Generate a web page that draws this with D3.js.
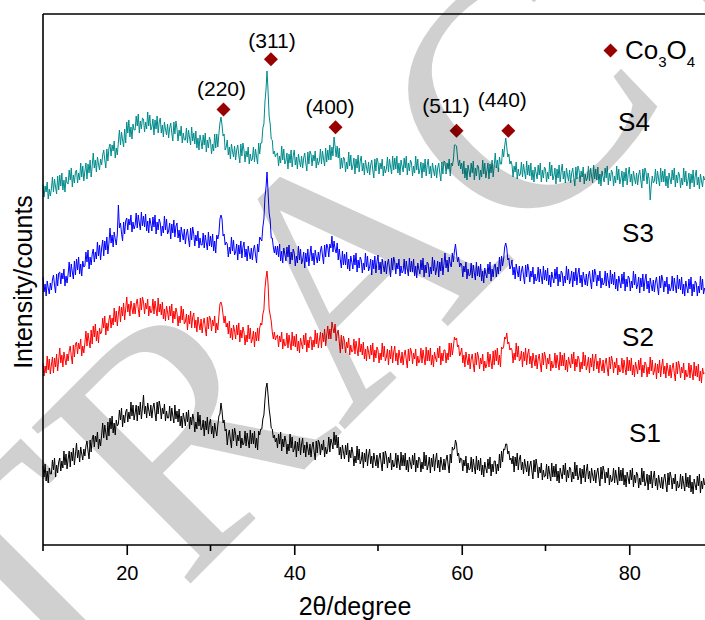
<!DOCTYPE html>
<html><head><meta charset="utf-8">
<script src="https://cdn.jsdelivr.net/npm/d3@7"></script>
<style>body{margin:0;background:#fff}svg{display:block}</style>
</head><body>
<svg id="chart" width="705" height="620"></svg>
<script>
// ---- data (arbitrary intensity units) ----
const twoThetaStart = 10;
const twoThetaStep = 0.125;

const s1 = [
79,68,81,64,74,62,77,71, 71,85,75,87,68,80,72,83,
87,74,84,77,94,80,91,76, 86,94,78,93,84,97,80,91,
102,87,95,83,98,91,85,96, 89,99,104,94,86,105,93,106,
110,98,109,103,113,96,106,99, 110,122,107,120,112,105,123,109,
127,116,129,112,122,110,125,119, 121,135,125,137,118,130,122,133,
136,123,133,126,143,129,140,125, 132,140,124,139,130,143,126,137,
150,131,139,127,142,135,129,140, 127,137,142,132,124,143,131,144,
138,126,137,131,141,124,134,127, 127,139,124,137,129,122,140,126,
134,123,136,119,129,117,132,126, 119,133,123,135,116,128,120,131,
126,113,123,116,133,119,130,115, 117,125,109,124,115,128,111,122,
126,111,119,107,122,115,109,120, 129,131,142,134,122,125,114,116,
100,110,115,105,97,116,104,117, 111,99,110,104,114,97,107,100,
102,114,99,112,104,97,115,101, 112,101,114,97,107,95,114,110,
116,116,126,130,145,157,162,150, 136,128,117,116,107,110,103,107,
97,111,101,113,94,106,98,109, 104,91,101,94,111,97,108,93,
96,104,88,103,94,107,90,101, 107,92,100,88,103,96,90,101,
88,98,103,93,85,104,92,105, 102,90,101,95,105,88,98,91,
96,108,93,106,102,96,113,100, 110,97,108,90,98,86,100,93,
86,100,90,102,83,95,87,98, 92,79,89,82,99,85,96,81,
85,93,77,92,83,96,79,90, 96,81,89,77,92,85,79,90,
77,87,92,82,74,93,81,94, 89,77,88,82,92,75,85,78,
80,92,77,90,82,75,93,79, 90,79,92,75,85,73,88,82,
76,90,80,92,73,85,77,88, 86,73,83,76,93,79,90,75,
80,88,72,87,78,91,74,85, 92,77,85,73,88,81,75,86,
75,85,90,80,72,91,82,98, 95,96,105,101,89,92,82,87,
86,74,85,79,89,72,82,75, 76,88,73,86,78,71,89,75,
85,74,87,70,80,68,83,77, 72,86,76,88,69,81,73,84,
84,71,81,74,91,77,94,83, 96,95,101,101,91,94,85,87,
81,89,73,88,79,92,75,86, 90,75,83,71,86,79,73,84,
69,79,84,74,66,85,73,86, 79,67,78,72,82,65,75,68,
69,81,66,79,71,64,82,68, 79,68,81,64,74,62,77,71,
66,80,70,82,63,75,67,78, 76,63,73,66,83,69,80,65,
69,77,61,76,67,80,63,74, 81,66,74,62,77,70,64,75,
62,72,77,67,59,78,66,79, 74,62,73,67,77,60,70,63,
65,77,62,75,67,60,78,64, 75,64,77,60,70,58,73,67,
61,75,65,77,58,70,62,73, 70,57,67,60,77,63,74,59,
63,71,55,70,61,74,57,68, 74,59,67,55,70,63,57,68,
56,66,71,61,53,72,60,73, 68,56,67,61,71,54,64,57,
59,71,56,69,61,54,72,58, 68,57,70,53,63,51,66,60,
55,69,59,71,52,64,56,67, 60
];

const s2 = [
182,169,179,172,189,175,186,171, 180,188,172,187,178,191,174,185,
197,182,190,178,193,186,180,191, 184,194,199,189,181,200,188,201,
203,191,202,196,206,189,199,192, 202,214,199,212,204,197,215,201,
219,208,221,204,214,202,217,211, 213,227,217,229,210,222,214,225,
230,217,227,220,237,223,234,219, 231,239,223,238,229,242,225,236,
248,233,241,229,244,237,231,242, 231,241,246,236,228,247,235,248,
243,231,242,236,246,229,239,232, 234,246,231,244,236,229,247,233,
241,230,243,226,236,224,239,233, 225,239,229,241,222,234,226,237,
232,219,229,222,239,225,236,221, 223,231,215,230,221,234,217,228,
232,217,225,213,228,221,215,226, 212,222,227,217,209,228,216,229,
226,214,225,219,229,212,222,215, 229,241,243,239,230,222,229,218,
222,211,224,207,217,205,220,214, 206,220,210,222,203,215,207,218,
213,200,210,203,220,206,217,202, 206,214,198,213,204,217,204,217,
222,220,231,235,256,267,274,261, 236,230,224,213,206,213,205,209,
210,198,209,203,213,196,206,199, 200,212,197,210,202,195,213,199,
209,198,211,194,204,192,207,201, 196,210,200,212,193,205,197,208,
208,195,205,198,215,201,212,197, 205,213,197,212,203,216,199,210,
219,206,216,206,223,217,212,221, 204,212,215,203,192,210,196,209,
204,192,203,197,207,190,200,193, 194,206,191,204,196,189,207,193,
201,190,203,186,196,184,199,193, 186,200,190,202,183,195,187,198,
195,182,192,185,202,188,199,184, 188,196,180,195,186,199,182,193,
199,184,192,180,195,188,182,193, 180,190,195,185,177,196,184,197,
193,181,192,186,196,179,189,182, 185,197,182,195,187,180,198,184,
195,184,197,180,190,178,193,187, 183,197,187,199,180,192,184,195,
195,182,192,185,202,188,202,190, 198,208,205,207,198,200,189,192,
197,182,190,178,193,186,180,191, 176,186,191,181,173,192,180,193,
188,176,187,181,191,174,184,177, 181,193,178,191,183,176,194,180,
195,184,197,180,190,178,198,196, 198,208,206,212,201,203,195,197,
195,182,192,185,202,188,199,184, 186,194,178,193,184,197,180,191,
196,181,189,177,192,185,179,190, 176,186,191,181,173,192,180,193,
188,176,187,181,191,174,184,177, 180,192,177,190,182,175,193,179,
190,179,192,175,185,173,188,182, 177,191,181,193,174,186,178,189,
186,173,183,176,193,179,190,175, 180,188,172,187,178,191,174,185,
191,176,184,172,187,180,174,185, 172,182,187,177,169,188,176,189,
184,172,183,177,187,170,180,173, 175,187,172,185,177,170,188,174,
185,174,187,170,180,168,183,177, 171,185,175,187,168,180,172,183,
181,168,178,171,188,174,185,170, 174,182,166,181,172,185,168,179,
186,171,179,167,182,175,169,180, 167,177,182,172,164,183,171,184,
179,167,178,172,182,165,175,168, 170,182,167,180,172,165,183,169,
179,168,181,164,174,162,177,171, 172
];

const s3 = [
268,253,261,249,264,257,251,262, 255,265,270,260,252,271,259,272,
273,261,272,266,276,259,269,262, 271,283,268,281,273,266,284,270,
286,275,288,271,281,269,284,278, 279,293,283,295,276,288,280,291,
296,283,293,286,303,289,300,285, 297,305,289,304,295,308,291,302,
317,302,310,298,313,306,300,311, 340,317,322,312,304,323,311,324,
327,315,326,320,330,313,323,316, 320,332,317,330,322,315,333,319,
329,318,331,314,324,312,327,321, 314,328,318,330,311,323,315,326,
322,309,319,312,329,315,326,311, 314,322,306,321,312,325,308,319,
322,307,315,303,318,311,305,316, 301,311,316,306,298,317,305,318,
311,299,310,304,314,297,307,300, 300,312,297,310,302,295,313,299,
309,298,311,294,304,292,310,306, 311,326,330,326,309,311,300,303,
301,288,298,291,308,294,305,290, 293,301,285,300,291,304,287,298,
303,288,296,284,299,292,286,297, 285,295,300,290,282,301,293,308,
306,304,318,326,348,357,373,353, 332,325,307,307,298,292,299,290,
299,288,301,284,294,282,297,291, 284,298,288,300,281,293,285,296,
292,279,289,282,299,285,296,281, 285,293,277,292,283,296,279,290,
299,284,292,280,295,288,282,293, 284,294,299,289,281,300,288,301,
298,288,301,297,309,293,304,296, 292,302,285,296,285,277,294,280,
291,280,293,276,286,274,289,283, 276,290,280,292,273,285,277,288,
285,272,282,275,292,278,289,274, 278,286,270,285,276,289,272,283,
290,275,283,271,286,279,273,284, 271,281,286,276,268,287,275,288,
283,271,282,276,286,269,279,272, 274,286,271,284,276,269,287,273,
284,273,286,269,279,267,282,276, 271,285,275,287,268,280,272,283,
281,268,278,271,288,274,285,270, 276,284,268,283,274,287,270,281,
292,277,285,273,288,281,278,292, 283,294,301,291,283,288,278,282,
280,268,279,273,283,266,276,269, 270,282,267,280,272,265,283,269,
279,268,281,264,274,262,277,271, 267,281,271,283,264,276,268,279,
281,268,278,271,288,274,289,279, 286,298,302,297,285,287,276,279,
285,270,278,266,281,274,268,279, 264,274,279,269,261,280,268,281,
275,263,274,268,278,261,271,264, 266,278,263,276,268,261,279,265,
275,264,277,260,270,258,273,267, 262,276,266,278,259,271,263,274,
272,259,269,262,279,265,276,261, 266,274,258,273,264,277,260,271,
277,262,270,258,273,266,260,271, 259,269,274,264,256,275,263,276,
271,259,270,264,274,257,267,260, 262,274,259,272,264,257,275,261,
271,260,273,256,266,254,269,263, 257,271,261,273,254,266,258,269,
267,254,264,257,274,260,271,256, 260,268,252,267,258,271,254,265,
271,256,264,252,267,260,254,265, 253,263,268,258,250,269,257,270,
265,253,264,258,268,251,261,254, 257,269,254,267,259,252,270,256,
266,255,268,251,261,249,264,258, 252,266,256,268,249,261,253,264,
262,249,259,252,269,255,266,251, 257
];

const s4 = [
360,348,359,353,363,346,356,349, 356,368,353,366,358,351,369,355,
370,359,372,355,365,353,368,362, 361,375,365,377,358,370,362,373,
375,362,372,365,382,368,379,364, 374,382,366,381,372,385,368,379,
392,377,385,373,388,381,375,386, 380,390,395,385,377,396,384,397,
401,389,400,394,404,387,397,390, 403,415,400,413,405,398,416,402,
423,412,425,408,418,406,421,415, 415,429,419,431,412,424,416,427,
426,413,423,416,433,419,430,415, 418,426,410,425,416,429,412,423,
427,412,420,408,423,416,410,421, 407,417,422,412,404,423,411,424,
416,404,415,409,419,402,412,405, 405,417,402,415,407,400,418,404,
412,401,414,397,407,395,410,404, 396,410,400,412,393,405,397,408,
404,391,401,394,411,397,411,398, 411,422,428,420,409,411,395,398,
405,390,398,386,401,394,388,399, 385,395,400,390,382,401,389,402,
395,383,394,388,398,381,391,384, 386,398,383,396,388,381,402,391,
402,402,417,421,443,455,474,454, 429,421,406,405,391,394,388,391,
392,379,389,382,399,385,396,381, 384,392,376,391,382,395,378,389,
395,380,388,376,391,384,378,389, 377,387,392,382,374,393,381,394,
391,379,390,384,394,377,387,380, 384,396,381,394,386,379,397,383,
395,385,400,385,398,389,408,399, 388,399,387,397,376,387,377,388,
386,373,383,376,393,379,390,375, 379,387,371,386,377,390,373,384,
389,374,382,370,385,378,372,383, 370,380,385,375,367,386,374,387,
383,371,382,376,386,369,379,372, 376,388,373,386,378,371,389,375,
387,376,389,372,382,370,385,379, 373,387,377,389,370,382,374,385,
382,369,379,372,389,375,386,371, 375,383,367,382,373,386,369,380,
386,371,379,367,382,375,369,380, 367,377,382,372,364,383,371,384,
383,371,382,376,386,369,382,379, 385,400,400,399,387,379,385,376,
382,371,384,367,377,365,380,374, 368,382,372,384,365,377,369,380,
378,365,375,368,385,371,382,367, 374,382,366,381,372,385,368,379,
392,377,385,373,388,381,381,396, 388,399,407,398,388,391,381,384,
380,368,379,373,383,366,376,369, 371,383,368,381,373,366,384,370,
380,369,382,365,375,363,378,372, 366,380,370,382,363,375,367,378,
376,363,373,366,383,369,380,365, 369,377,361,376,367,380,363,374,
381,366,374,362,377,370,364,375, 362,372,377,367,359,378,366,379,
375,363,374,368,378,361,371,364, 367,379,364,377,369,362,380,366,
376,365,378,361,371,359,374,368, 363,377,367,379,360,372,364,375,
372,359,369,362,379,365,376,361, 366,374,358,373,364,377,360,371,
378,363,371,359,374,367,361,372, 360,370,375,365,357,376,364,377,
373,361,372,366,345,359,369,362, 364,376,361,374,366,359,377,363,
374,363,376,359,369,357,372,366, 361,375,365,377,358,370,362,373,
370,357,367,360,377,363,374,359, 364,372,356,371,362,375,358,369,
375,360,368,356,371,364,358,369, 365
];

const seriesNames = ["S1", "S2", "S3", "S4"];
const seriesValues = [s1, s2, s3, s4];

const peakLabels = ["(220)", "(311)", "(400)", "(511)", "(440)"];
const peakAngles = [31.55, 37.22, 44.93, 59.37, 65.56];
const peakMarkerValues = [435.5, 485.7, 417.7, 414.2, 414.2];

const xTickValues = [20, 40, 60, 80];
const xMinorTickValues = [10, 30, 50, 70, 90];

// ---- styling / layout ----
const seriesColors = ["#000000", "#ff0000", "#0000ff", "#008b8b"];
const seriesLabelXY = [[645, 442], [638, 346], [638, 242], [634, 131]];
const peakLabelOffsets = [[-2, -14], [1, -11], [-5.5, -13], [-10.5, -18], [-6, -24]];
const markerColor = "#990000";
const font = "'Liberation Sans', Arial, Helvetica, sans-serif";

const svg = d3.select("#chart");
const x = d3.scaleLinear().domain([10, 90]).range([43, 713]);
const y = d3.scaleLinear().domain([0, 531]).range([545, 14]);

const line = d3.line()
  .x((d, i) => x(twoThetaStart + i * twoThetaStep))
  .y(d => y(d));

seriesValues.forEach((vals, k) => {
  svg.append("path")
    .datum(vals)
    .attr("d", line)
    .attr("fill", "none")
    .attr("stroke", seriesColors[k])
    .attr("stroke-width", 1)
    .attr("stroke-linejoin", "round");
});

// frame: top border and left axis
svg.append("line").attr("x1", x(10)).attr("x2", 705).attr("y1", y(531)).attr("y2", y(531))
  .attr("stroke", "#000").attr("stroke-width", 1.6);
svg.append("line").attr("x1", x(10)).attr("x2", x(10)).attr("y1", y(531)).attr("y2", y(0))
  .attr("stroke", "#000").attr("stroke-width", 1.6);

// bottom axis
const gx = svg.append("g").attr("transform", `translate(0,${y(0)})`);
gx.call(d3.axisBottom(x).tickValues(xTickValues).tickSize(10).tickPadding(11).tickSizeOuter(0));
gx.select(".domain").attr("stroke-width", 1.6).attr("d", `M${x(10)},0H705`);
gx.selectAll(".tick line").attr("stroke-width", 1.6);
gx.selectAll(".tick text").attr("font-family", font).attr("font-size", 20).attr("fill", "#000");
gx.selectAll(".minor").data(xMinorTickValues).enter().append("line")
  .attr("class", "minor")
  .attr("x1", d => x(d)).attr("x2", d => x(d)).attr("y1", 0).attr("y2", 6)
  .attr("stroke", "#000").attr("stroke-width", 1.6);

// axis titles
svg.append("text").attr("x", 355).attr("y", 615).attr("text-anchor", "middle")
  .attr("font-family", font).attr("font-size", 25).attr("fill", "#000").text("2θ/degree");
svg.append("text").attr("transform", "translate(32,282) rotate(-90)").attr("text-anchor", "middle")
  .attr("font-family", font).attr("font-size", 25).attr("fill", "#000").text("Intensity/counts");

// series labels
seriesNames.forEach((n, k) => {
  svg.append("text").attr("x", seriesLabelXY[k][0]).attr("y", seriesLabelXY[k][1])
    .attr("text-anchor", "middle").attr("font-family", font).attr("font-size", 26)
    .attr("fill", "#000").text(n);
});

// peak markers and labels
const diamond = d3.symbol().type(d3.symbolSquare).size(98);
peakLabels.forEach((lab, k) => {
  const px = x(peakAngles[k]), py = y(peakMarkerValues[k]);
  svg.append("path").attr("d", diamond())
    .attr("transform", `translate(${px},${py}) rotate(45)`)
    .attr("fill", markerColor);
  svg.append("text").attr("x", px + peakLabelOffsets[k][0]).attr("y", py + peakLabelOffsets[k][1])
    .attr("text-anchor", "middle").attr("font-family", font).attr("font-size", 21)
    .attr("fill", "#000").text(lab);
});

// legend
svg.append("path").attr("d", diamond()).attr("transform", "translate(610.5,50.5) rotate(45)")
  .attr("fill", markerColor);
const lg = svg.append("text").attr("x", 625).attr("y", 59).attr("font-family", font)
  .attr("font-size", 26).attr("fill", "#000");
lg.append("tspan").text("Co");
lg.append("tspan").attr("font-size", 15).attr("dy", 8).text("3");
lg.append("tspan").attr("dy", -8).text("O");
lg.append("tspan").attr("font-size", 15).attr("dy", 8).text("4");

// watermark overlay
svg.append("g").attr("opacity", 0.18)
  .append("text")
  .attr("transform", "translate(-272,1046) rotate(-45)")
  .attr("font-family", "'Liberation Serif', 'Times New Roman', serif")
  .attr("font-size", 340)
  .attr("fill", "#000")
  .text("RETRACTED");
</script>
</body></html>
